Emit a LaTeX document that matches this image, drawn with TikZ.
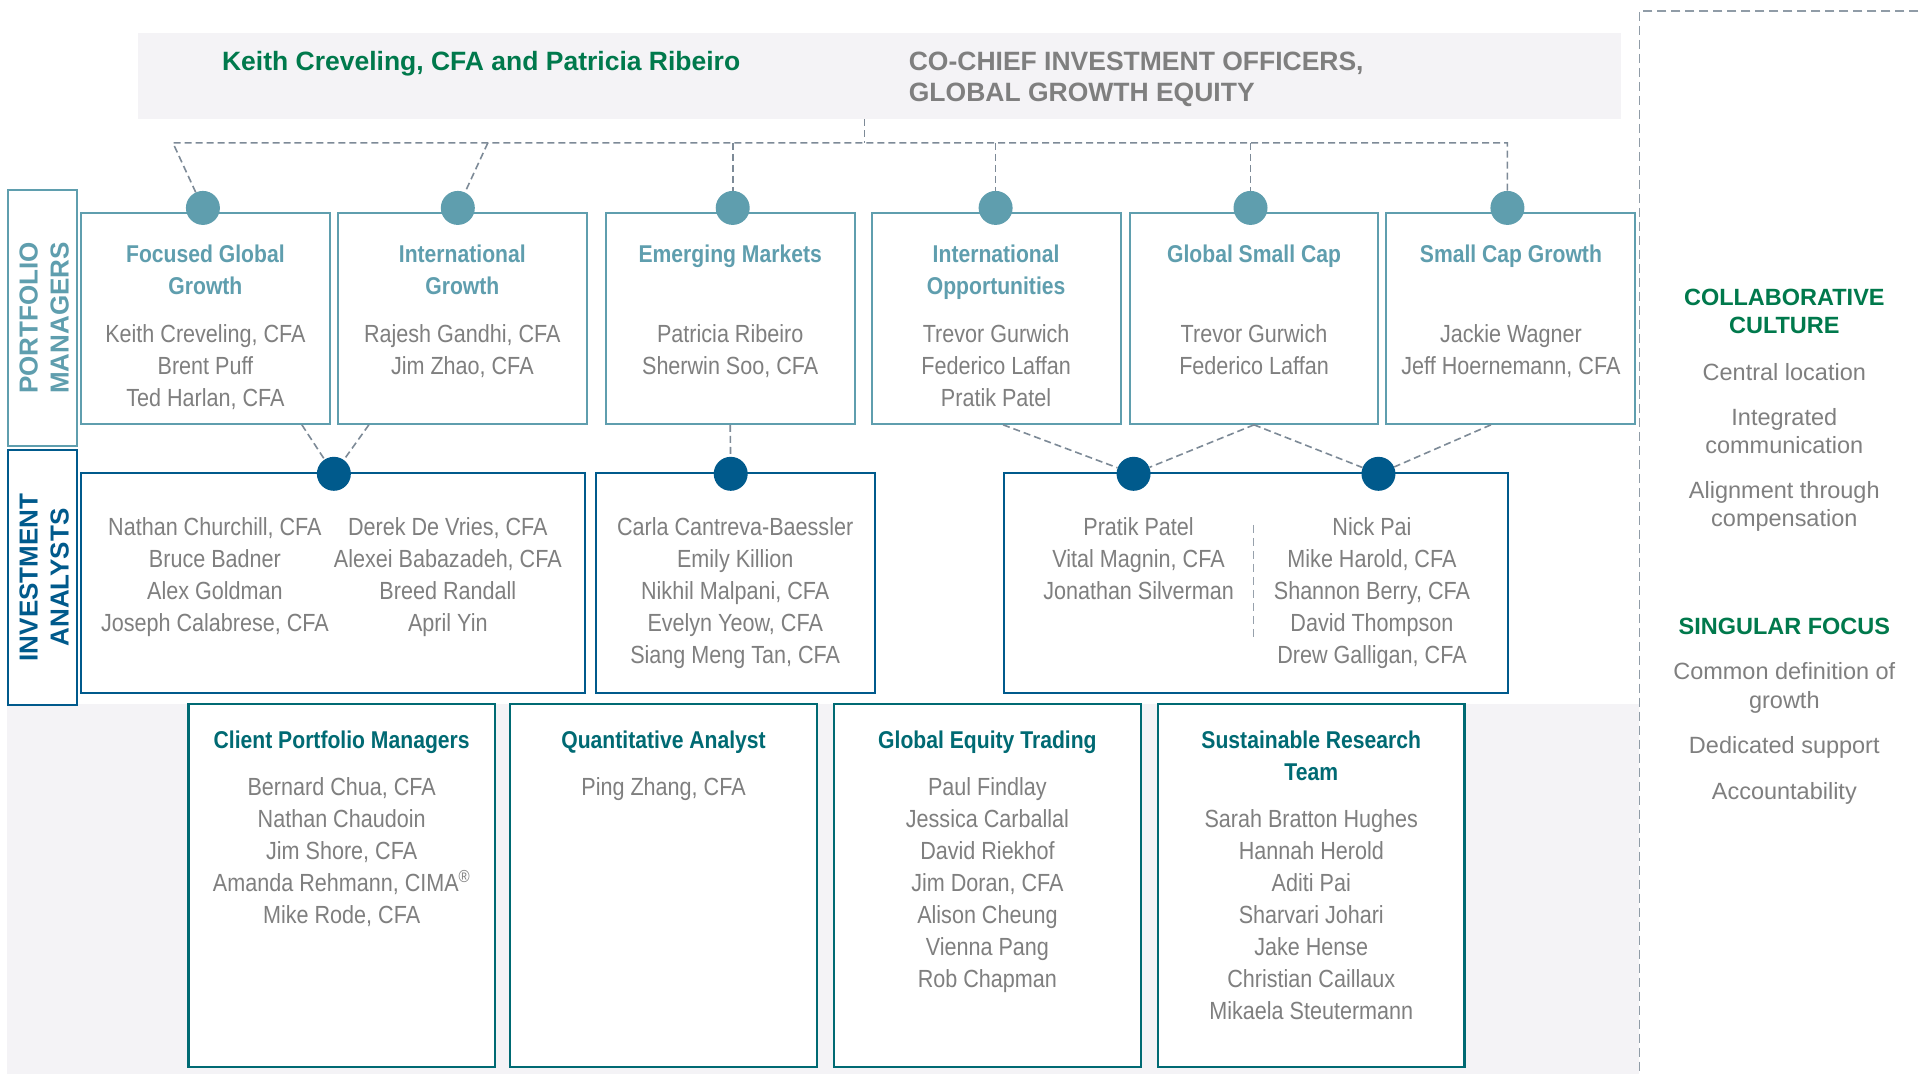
\documentclass[tikz,border=0pt]{standalone}
\usepackage{fontspec}
\setmainfont{Liberation Sans}
\newfontfamily\narrowfont{Liberation Sans}[FakeStretch=0.87]
\usetikzlibrary{positioning}
\definecolor{pmteal}{HTML}{5F9EAE}
\definecolor{iablue}{HTML}{005A8C}
\definecolor{spteal}{HTML}{006A73}
\definecolor{cioGreen}{HTML}{00794C}
\definecolor{nameGray}{HTML}{7F7F7F}
\definecolor{bandGray}{HTML}{F4F3F6}
\definecolor{linkGray}{HTML}{7D8A97}

\begin{document}
\begin{tikzpicture}[x=1pt,y=-1pt,
    box/.style={draw,inner sep=0pt,fill=white},
    pmbox/.style={box,draw=pmteal,line width=2pt,minimum width=249pt,minimum height=211pt,anchor=north west},
    iabox/.style={box,draw=iablue,line width=2pt,minimum height=220pt,anchor=north west},
    spbox/.style={box,draw=spteal,line width=2.6pt,minimum width=307pt,minimum height=363pt,anchor=north west},
    labbox/.style={box,line width=2.4pt,minimum width=69pt,anchor=north west},
    pmdot/.style={circle,fill=pmteal,inner sep=0pt,minimum size=34pt},
    iadot/.style={circle,fill=iablue,inner sep=0pt,minimum size=34pt},
    link/.style={draw=linkGray,line width=1.6pt,dash pattern=on 7pt off 4pt},
    names/.style={inner sep=0pt,align=center,text=nameGray,font=\narrowfont\fontsize{24.8}{32}\selectfont,anchor=north},
    pmtitle/.style={inner sep=0pt,align=center,text=pmteal,font=\narrowfont\bfseries\fontsize{24.3}{32}\selectfont,anchor=north},
    sptitle/.style={pmtitle,text=spteal},
    lbl/.style={inner sep=0pt,align=center,font=\bfseries\fontsize{26}{31}\selectfont,rotate=90},
    side/.style={inner sep=0pt,align=center,text=nameGray,font=\fontsize{23.5}{28.5}\selectfont,anchor=north},
    sidehead/.style={side,text=cioGreen,font=\bfseries\fontsize{23.5}{28.5}\selectfont}]
  \fill[white] (0,0) rectangle (1919,1074);
  \fill[bandGray] (7,704) rectangle (1640,1074);
  \draw[draw=linkGray!85,line width=1.5pt,dash pattern=on 9pt off 5pt] (1919,11) -- (1640,11) -- (1640,1074);

  % co-chief investment officers
  \node[fill=bandGray,inner sep=0pt,minimum width=1483pt,minimum height=86pt,anchor=north west] (cio) at (138,33) {};
  \node[anchor=base west,inner sep=0pt,text=cioGreen,font=\bfseries\fontsize{26.5}{31}\selectfont] (cioN) at (222,71) {Keith Creveling, CFA and Patricia Ribeiro};
  \node[anchor=north west,inner sep=0pt,align=left,text=nameGray,font=\bfseries\fontsize{26.5}{31}\selectfont] (cioT) at (909,52) {CO-CHIEF INVESTMENT OFFICERS,\\GLOBAL GROWTH EQUITY};

  % side labels
  \node[labbox,draw=pmteal,minimum height=256pt] (pmlab) at (7,189) {};
  \node[lbl,text=pmteal] at ([xshift=1.5pt]pmlab.center) {PORTFOLIO\\MANAGERS};
  \node[labbox,draw=iablue,minimum height=255pt] (ialab) at (7,449) {};
  \node[lbl,text=iablue] at ([xshift=1.5pt]ialab.center) {INVESTMENT\\ANALYSTS};

  % portfolio managers
  \node[pmbox] (fgg) at (80,212) {};
  \node[pmbox] (ig) at (337,212) {};
  \node[pmbox] (em) at (605,212) {};
  \node[pmbox] (io) at (871,212) {};
  \node[pmbox] (gsc) at (1129,212) {};
  \node[pmbox] (scg) at (1386,212) {};
  \node[pmtitle,below=33pt of fgg.north] {Focused Global\\Growth};
  \node[pmtitle,below=33pt of ig.north] {International\\Growth};
  \node[pmtitle,below=33pt of em.north] {Emerging Markets};
  \node[pmtitle,below=33pt of io.north] {International\\Opportunities};
  \node[pmtitle,below=33pt of gsc.north] {Global Small Cap};
  \node[pmtitle,below=33pt of scg.north] {Small Cap Growth};
  \node[names,below=112pt of fgg.north] {Keith Creveling, CFA\\Brent Puff\\Ted Harlan, CFA};
  \node[names,below=112pt of ig.north] {Rajesh Gandhi, CFA\\Jim Zhao, CFA};
  \node[names,below=112pt of em.north] {Patricia Ribeiro\\Sherwin Soo, CFA};
  \node[names,below=112pt of io.north] {Trevor Gurwich\\Federico Laffan\\Pratik Patel};
  \node[names,below=112pt of gsc.north] {Trevor Gurwich\\Federico Laffan};
  \node[names,below=112pt of scg.north] {Jackie Wagner\\Jeff Hoernemann, CFA};
  \node[pmdot] (d1) at (203,208) {};
  \node[pmdot] (d2) at (458,208) {};
  \node[pmdot] (d3) at (733,208) {};
  \node[pmdot] (d4) at (996,208) {};
  \node[pmdot] (d5) at (1251,208) {};
  \node[pmdot] (d6) at (1508,208) {};

  \coordinate (busL) at (173,143);
  \coordinate (busM) at (488,143);
  \coordinate (hub) at (865,143);
  \draw[link] (cio.south -| hub) -- (hub);
  \draw[link] (d1) -- (busL) -- (d6 |- busL) -- (d6);
  \draw[link] (busM) -- (d2);
  \foreach \d in {d3,d4,d5}
    \draw[link] (\d |- busL) -- (\d);

  % investment analysts
  \node[iabox,minimum width=504pt] (ia1) at (80,472) {};
  \node[iabox,minimum width=279pt] (ia2) at (595,472) {};
  \node[iabox,minimum width=505pt] (ia3) at (1003,472) {};
  \node[names] at (215,518) {Nathan Churchill, CFA\\Bruce Badner\\Alex Goldman\\Joseph Calabrese, CFA};
  \node[names] at (448,518) {Derek De Vries, CFA\\Alexei Babazadeh, CFA\\Breed Randall\\April Yin};
  \node[names,below=46pt of ia2.north] {Carla Cantreva-Baessler\\Emily Killion\\Nikhil Malpani, CFA\\Evelyn Yeow, CFA\\Siang Meng Tan, CFA};
  \node[names] at (1139,518) {Pratik Patel\\Vital Magnin, CFA\\Jonathan Silverman};
  \node[names] at (1372.5,518) {Nick Pai\\Mike Harold, CFA\\Shannon Berry, CFA\\David Thompson\\Drew Galligan, CFA};
  \draw[draw=linkGray!80,line width=1.3pt,dash pattern=on 8pt off 5pt] (1254,525) -- (1254,639);
  \node[iadot] (e1) at (334,474) {};
  \node[iadot] (e2) at (731,474) {};
  \node[iadot] (e3) at (1134,474) {};
  \node[iadot] (e4) at (1379,474) {};
  \draw[link] ([xshift=-29pt]fgg.south east) -- (e1);
  \draw[link] ([xshift=32pt]ig.south west) -- (e1);
  \draw[link] (em.south) -- (e2);
  \draw[link] ([xshift=7pt]io.south) -- (e3);
  \draw[link] (gsc.south) -- (e3);
  \draw[link] (gsc.south) -- (e4);
  \draw[link] ([xshift=-20pt]scg.south) -- (e4);

  % support teams
  \node[spbox] (cpm) at (187,703) {};
  \node[spbox] (qa) at (509,703) {};
  \node[spbox] (get) at (833,703) {};
  \node[spbox] (srt) at (1157,703) {};
  \node[sptitle,below=28pt of cpm.north] {Client Portfolio Managers};
  \node[sptitle,below=28pt of qa.north] {Quantitative Analyst};
  \node[sptitle,below=28pt of get.north] {Global Equity Trading};
  \node[sptitle,below=28pt of srt.north] {Sustainable Research\\Team};
  \node[names,below=75pt of cpm.north] {Bernard Chua, CFA\\Nathan Chaudoin\\Jim Shore, CFA\\Amanda Rehmann, CIMA\textsuperscript{\textregistered}\\Mike Rode, CFA};
  \node[names,below=75pt of qa.north] {Ping Zhang, CFA};
  \node[names,below=75pt of get.north] {Paul Findlay\\Jessica Carballal\\David Riekhof\\Jim Doran, CFA\\Alison Cheung\\Vienna Pang\\Rob Chapman};
  \node[names,below=107pt of srt.north] {Sarah Bratton Hughes\\Hannah Herold\\Aditi Pai\\Sharvari Johari\\Jake Hense\\Christian Caillaux\\Mikaela Steutermann};

  % culture
  \node[sidehead] (cc) at (1785,289) {COLLABORATIVE\\CULTURE};
  \node[side] (c1) at (1785,363) {Central location};
  \node[side] (c2) at (1785,408) {Integrated\\communication};
  \node[side] (c3) at (1785,481) {Alignment through\\compensation};
  \node[sidehead] (sf) at (1785,618) {SINGULAR FOCUS};
  \node[side] (s1) at (1785,663) {Common definition of\\growth};
  \node[side] (s2) at (1785,737) {Dedicated support};
  \node[side] (s3) at (1785,783) {Accountability};
\end{tikzpicture}
\end{document}
